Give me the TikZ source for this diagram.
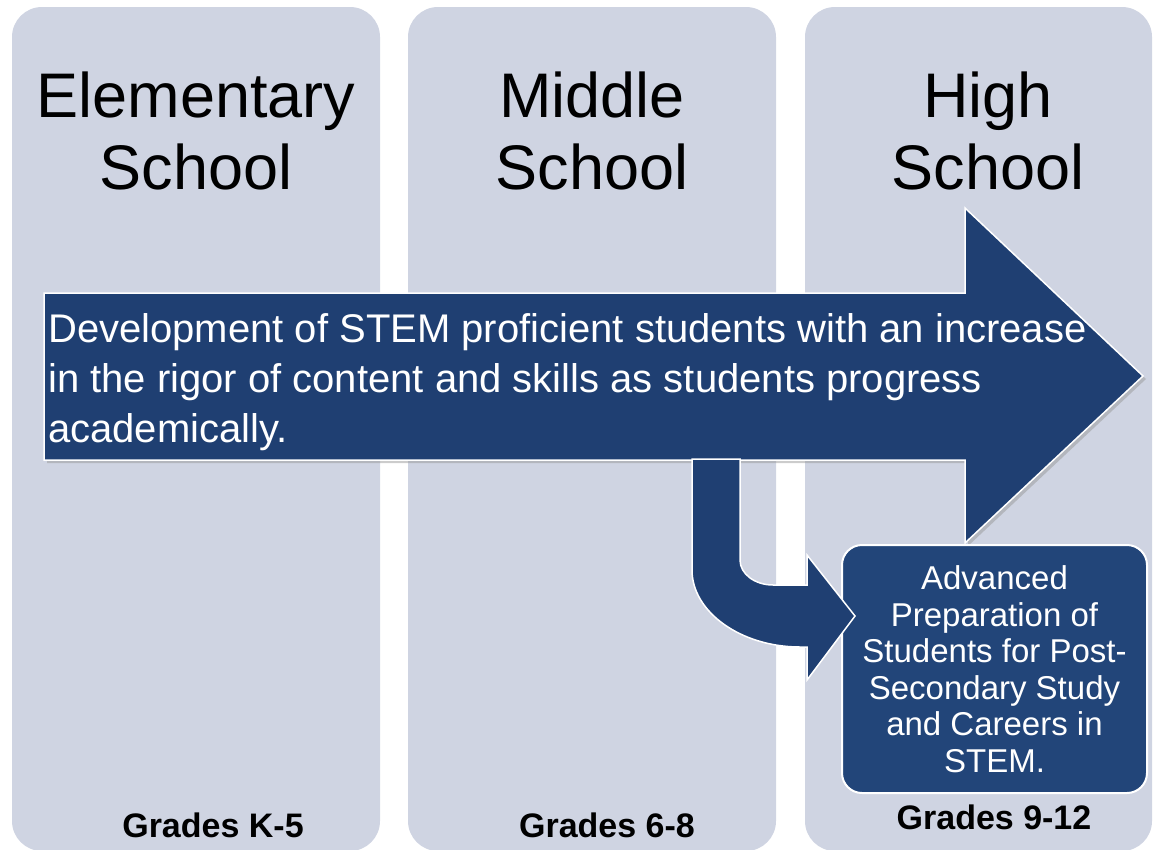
\documentclass[tikz,border=0pt]{standalone}
\usepackage{fontspec}
\setmainfont{Liberation Sans}
\definecolor{colfill}{RGB}{207,212,226}
\definecolor{navy}{RGB}{31,63,114}
\definecolor{boxfill}{RGB}{34,69,121}
\begin{document}
\begin{tikzpicture}[x=1pt, y=-1pt,
  colbox/.style={fill=colfill, rounded corners=30pt, minimum width=368pt, minimum height=844pt, inner sep=0pt},
  ttlstyle/.style={align=center, inner sep=0pt, anchor=base, font=\fontsize{63}{72}\selectfont},
  grdstyle/.style={inner sep=0pt, anchor=base, font=\fontsize{34}{40}\selectfont\bfseries},
  arrowfill/.style={fill=navy, draw=white, line width=1.5pt, line join=miter}]
\useasboundingbox (0,0) rectangle (1154,849);
\clip (0,0) rectangle (1154,849);
\node[colbox] (col1) at (196,429){};
\node[colbox] (col2) at (592,429){};
\node[colbox, minimum width=347pt] (col3) at (978.5,429){};
\node[ttlstyle] (ttl1) at (196,189){Elementary\\School};
\node[ttlstyle] (ttl2) at (592,189){Middle\\School};
\node[ttlstyle] (ttl3) at (988,189){High\\School};
\node[grdstyle] (grd1) at (213,837){Grades K-5};
\node[grdstyle] (grd2) at (607,837){Grades 6-8};
\node[grdstyle] (grd3) at (994,829){Grades 9-12};
\fill[black!40, opacity=.5] (47,296) -- (968,296) -- (968,211) -- (1146,379) -- (968,546) -- (968,463) -- (47,463) -- cycle;
\draw[arrowfill] (44,293) -- (965,293) -- (965,208) -- (1143,376) -- (965,543) -- (965,460) -- (44,460) -- cycle;
\node[anchor=base west, align=left, inner sep=0pt, text=white, font=\fontsize{40}{50}\selectfont] (devtxt) at (48,442){Development of STEM proficient students with an increase\\in the rigor of content and skills as students progress\\academically.};
\node[draw=white, line width=2pt, fill=boxfill, rounded corners=20pt, minimum width=305pt, minimum height=248pt, inner sep=0pt, text=white, align=center, font=\fontsize{33}{36.5}\selectfont] (adv) at (994.5,669){Advanced\\Preparation of\\Students for Post-\\Secondary Study\\and Careers in\\STEM.};
\draw[arrowfill] (692,459) -- (740,459) -- (740,560) .. controls (740,574) and (755,585) .. (773,585) -- (807,585) -- (807,555) -- (855,616) -- (807,680) -- (807,647) -- (800,647) .. controls (741,647) and (692,612) .. (692,570) -- cycle;
\end{tikzpicture}
\end{document}
